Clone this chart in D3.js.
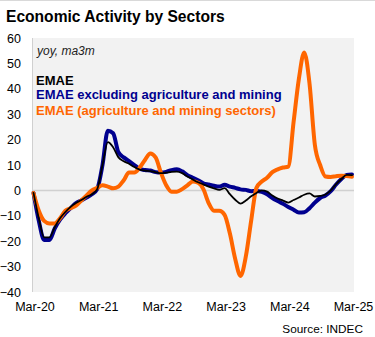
<!DOCTYPE html>
<html>
<head>
<meta charset="utf-8">
<script src="https://cdn.jsdelivr.net/npm/d3@7"></script>
<style>
  html, body { margin: 0; padding: 0; background: #fff; }
  svg { display: block; font-family: "Liberation Sans", Arial, sans-serif; }
</style>
</head>
<body>
<svg id="chart" width="375" height="337"></svg>
<script>
// Monthly observations, Mar-2020 .. Mar-2025 (year-on-year %, 3-month moving average)
const startMonth = new Date(2020, 2, 1);
const months = d3.timeMonth.range(startMonth, new Date(2025, 3, 1));

const emae = [
  -1, -11, -18.5, -18.5, -14.5, -11, -8.5, -6.5, -5, -3.8, -2.5, -1.5,
  0.5, 10, 19, 17, 13, 11.5, 10.5, 9.2, 8.2, 7.8, 7.6, 7.2,
  6.8, 7, 7.3, 7.4, 6.8, 5.5, 4.3, 3.2, 2.4, 1.5, 0.8, 0.2,
  0.9, -1.5, -3.7, -5.2, -4, -2.3, -1, 0, -0.5, -2, -3.2, -4,
  -4.8, -3.8, -2.8, -1.7, -1.2, -2.4, -2.2, -1.6, 0, 2.5, 4.5, 6.1,
  6
];
const emaeExAgroMining = [
  -1, -12, -19.5, -19.5, -15, -11.5, -9, -7, -5, -4, -2.8, -1.5,
  0.5, 10, 23.5, 22.5, 15, 13, 11.5, 10, 8.5, 8, 7.8, 7.2,
  7, 7.3, 8, 8.3, 7.5, 6, 5, 4, 2.8, 2.3, 1.8, 1.5,
  2.2, 1.5, 1, 0.4, 0.2, -0.3, -0.2, -0.6, -1.5, -3, -4.2, -5.3,
  -6.5, -7.6, -8.7, -8.6, -7, -4.8, -3, -2, -0.3, 2.3, 4.5, 6.1,
  6.3
];
const emaeAgroMining = [
  -1, -8, -12, -13, -13, -11, -8, -7, -6, -4, -2, 0,
  1, 2, 1.5, 0.8, 1.5, 4, 7, 7, 9, 12, 14.5, 13,
  7, 2, -0.5, -0.5, 0.5, 2, 3.5, 3, 0.5, -5, -8, -8,
  -9.6, -17, -27, -33.7, -26, -12, 1, 3.5, 5, 7.2, 8.3, 9,
  9.4, 27, 44, 54.3, 42, 18, 10, 5.5, 5.3, 5.6, 5.8, 5.7,
  5.4
];

const yTicks = [60, 50, 40, 30, 20, 10, 0, -10, -20, -30, -40];
const xTickLabels = ["Mar-20", "Mar-21", "Mar-22", "Mar-23", "Mar-24", "Mar-25"];

const series = [
  { name: "EMAE excluding agriculture and mining", values: emaeExAgroMining, color: "#00008f", width: 4 },
  { name: "EMAE (agriculture and mining sectors)", values: emaeAgroMining, color: "#ff6600", width: 4 },
  { name: "EMAE", values: emae, color: "#000000", width: 1.8 }
];

const svg = d3.select("#chart");
const plot = { left: 32, right: 354, top: 38, bottom: 292 };

const x = d3.scaleLinear().domain([0, months.length - 1]).range([33.5, 352]);
const y = d3.scaleLinear().domain([-40, 60]).range([plot.bottom, plot.top]);

// frame line along the top edge
svg.append("line")
  .attr("x1", 0).attr("x2", 375).attr("y1", 0.5).attr("y2", 0.5)
  .attr("stroke", "#d9d9d9").attr("stroke-width", 1);

// title
svg.append("text")
  .attr("x", 6).attr("y", 21.5)
  .attr("font-size", 15.6).attr("font-weight", "bold").attr("fill", "#000")
  .text("Economic Activity by Sectors");

// plot background
svg.append("rect")
  .attr("x", plot.left).attr("y", plot.top)
  .attr("width", plot.right - plot.left).attr("height", plot.bottom - plot.top)
  .attr("fill", "#f2f2f2");

// left axis line
svg.append("line")
  .attr("x1", plot.left + 0.5).attr("x2", plot.left + 0.5)
  .attr("y1", plot.top).attr("y2", plot.bottom)
  .attr("stroke", "#d0d0d0").attr("stroke-width", 1);

// zero line
svg.append("line")
  .attr("x1", plot.left).attr("x2", plot.right)
  .attr("y1", y(0)).attr("y2", y(0))
  .attr("stroke", "#d0d0d0").attr("stroke-width", 1.5);

// y axis labels
const yAxis = d3.axisLeft(y).tickValues(yTicks).tickSize(0).tickPadding(0);
svg.append("g")
  .attr("transform", "translate(21,0)")
  .call(yAxis)
  .call(g => g.select(".domain").remove())
  .call(g => g.selectAll("text")
    .attr("font-size", 12.5).attr("fill", "#000")
    .attr("font-family", "Liberation Sans, Arial, sans-serif"));

// x axis labels
const xTickIdx = xTickLabels.map((_, i) => i * 12);
const xAxis = d3.axisBottom(x).tickValues(xTickIdx).tickSize(0).tickPadding(0)
  .tickFormat((d, i) => xTickLabels[i]);
svg.append("g")
  .attr("transform", "translate(1," + (plot.bottom + 10) + ")")
  .call(xAxis)
  .call(g => g.select(".domain").remove())
  .call(g => g.selectAll("text")
    .attr("font-size", 12.5).attr("fill", "#000")
    .attr("font-family", "Liberation Sans, Arial, sans-serif"));

// series lines
const line = d3.line()
  .x((d, i) => x(i))
  .y(d => y(d))
  .curve(d3.curveMonotoneX);

svg.append("g")
  .selectAll("path")
  .data(series)
  .join("path")
  .attr("d", d => line(d.values))
  .attr("fill", "none")
  .attr("stroke", d => d.color)
  .attr("stroke-width", d => d.width)
  .attr("stroke-linejoin", "round")
  .attr("stroke-linecap", "round");

// legend / notes
svg.append("text")
  .attr("x", 37).attr("y", 55)
  .attr("font-size", 12).attr("font-style", "italic").attr("fill", "#222")
  .text("yoy, ma3m");

const legendItems = [
  { text: "EMAE", color: "#000000", y: 84.5 },
  { text: "EMAE excluding agriculture and mining", color: "#00008f", y: 99 },
  { text: "EMAE (agriculture and mining sectors)", color: "#ff6600", y: 114.5 }
];
svg.append("g")
  .selectAll("text")
  .data(legendItems)
  .join("text")
  .attr("x", 36)
  .attr("y", d => d.y)
  .attr("font-size", 13)
  .attr("font-weight", "bold")
  .attr("fill", d => d.color)
  .text(d => d.text);

// source
svg.append("text")
  .attr("x", 363).attr("y", 333)
  .attr("text-anchor", "end")
  .attr("font-size", 11.8).attr("fill", "#000")
  .text("Source: INDEC");
</script>
</body>
</html>
